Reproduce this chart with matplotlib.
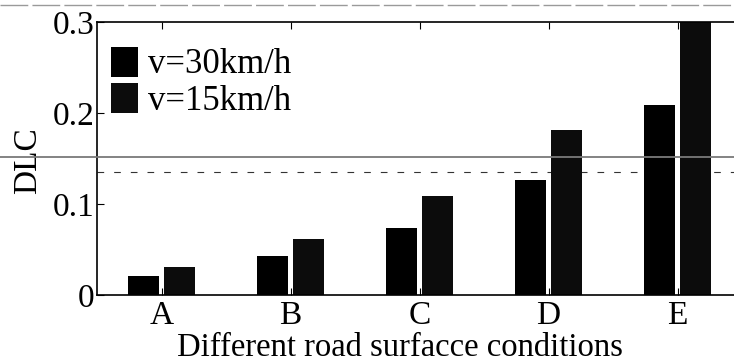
import matplotlib.pyplot as plt
import numpy as np

plt.rcParams['font.family'] = ['Liberation Serif', 'DejaVu Serif']

conditions = ['A', 'B', 'C', 'D', 'E']
dlc_30 = [0.021, 0.043, 0.074, 0.126, 0.209]
dlc_15 = [0.031, 0.062, 0.109, 0.181, 0.302]
labels = ['v=30km/h', 'v=15km/h']
threshold_solid = 0.152
threshold_dashed = 0.135

fig = plt.figure(figsize=(7.34, 3.63), dpi=100)
# axes runs past the right edge like in the scan
ax = fig.add_axes([97 / 734, 1 - 295 / 363, 645 / 734, 273 / 363])

x = np.arange(1, len(conditions) + 1)
w = 0.235
ax.bar(x - 0.14, dlc_30, w, color='#000000', label=labels[0])
ax.bar(x + 0.14, dlc_15, w, color='#0c0c0c', label=labels[1])

ax.axhline(threshold_dashed, color='#333333', lw=0.8, ls=(0, (6, 9)), zorder=0)

ax.set_xlim(0.5, 5.5)
ax.set_ylim(0, 0.3)
ax.set_xticks(x)
ax.set_xticklabels(conditions)
ax.set_yticks([0, 0.1, 0.2, 0.3])
ax.set_yticklabels(['0', '0.1', '0.2', '0.3'])
ax.tick_params(direction='in', length=5, labelsize=24, top=True, pad=2)
ax.tick_params(axis='x', pad=4)
for s in ax.spines.values():
    s.set_linewidth(1.2)
ax.spines['right'].set_visible(False)

ax.set_ylabel('DLC', fontsize=24, va='center')
ax.yaxis.set_label_coords(-0.108, 0.494)
ax.set_xlabel('Different road surfacce conditions', fontsize=23.5, va='baseline')
ax.xaxis.set_label_coords(0.47, (295 - 356) / 273)

ax.legend(loc='upper left', fontsize=25, frameon=False, handlelength=0.78,
          handleheight=0.95, handletextpad=0.3, labelspacing=0.05,
          borderpad=0, borderaxespad=0, bbox_to_anchor=(0.0217, 0.91))

# scan artefact lines across the page
fig.add_artist(plt.Line2D([0, 1], [1 - 157 / 363] * 2, color='#7a7a7a', lw=1.3))
fig.add_artist(plt.Line2D([0, 1], [1 - 5 / 363] * 2, color='#9a9a9a', lw=1.0,
                          ls=(0, (20, 3))))

fig.savefig('out.png', dpi=100)
